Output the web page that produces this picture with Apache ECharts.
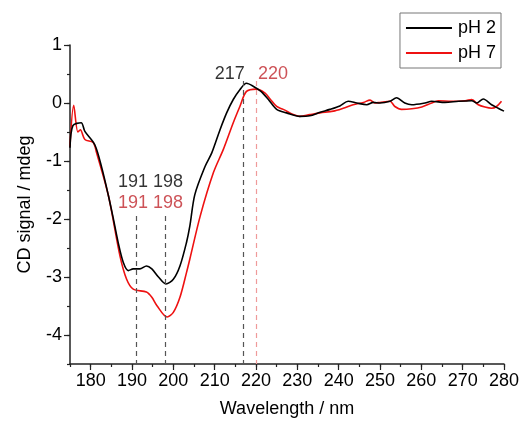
<!DOCTYPE html>
<html>
<head>
<meta charset="utf-8">
<script src="https://cdn.jsdelivr.net/npm/echarts@6/dist/echarts.min.js"></script>
<style>
  html, body { margin: 0; padding: 0; background: #fff; }
  #chart { width: 522px; height: 430px; }
</style>
</head>
<body>
<div id="chart"></div>
<script>
// pH 2 spectrum (wavelength nm, CD mdeg)
const ph2Wave = [175, 175.7, 177.7, 178.6, 181, 182.7, 184.3, 185.5, 186.7, 187.9, 189.1, 190.3, 191.9, 193.5, 194.8, 196.4, 198.2, 200, 201.6, 203.2, 204, 205.2, 207.7, 209.3, 211.3, 212.9, 214.5, 216.1, 217.7, 219.3, 221.2, 223, 225, 227.4, 230.6, 233, 235.5, 237.9, 240.3, 242.3, 244.4, 246.8, 248.4, 250, 252.4, 254, 256, 257.7, 260.9, 262.5, 265.7, 269, 272.2, 273.4, 275, 277, 278.6, 280];
const ph2Cd = [-0.77, -0.39, -0.34, -0.49, -0.72, -1.12, -1.6, -2.0, -2.42, -2.75, -2.89, -2.86, -2.86, -2.81, -2.86, -3.0, -3.12, -3.04, -2.81, -2.4, -2.12, -1.58, -1.09, -0.86, -0.46, -0.17, 0.06, 0.23, 0.34, 0.29, 0.2, 0.06, -0.11, -0.17, -0.23, -0.22, -0.16, -0.11, -0.05, 0.03, 0.0, -0.03, 0.01, 0.0, 0.03, 0.09, 0.0, -0.03, 0.0, 0.03, 0.01, 0.03, 0.04, 0.0, 0.07, -0.03, -0.09, -0.14];

// pH 7 spectrum
const ph7Wave = [175, 175.9, 176.9, 177.5, 178.6, 180.6, 181.4, 184.3, 187.1, 188.7, 190.3, 193.5, 194.8, 196, 198.5, 200, 201.6, 203.2, 204, 206.5, 209.7, 212.1, 214.5, 216.1, 217.7, 220.1, 222.2, 223.4, 225, 226.6, 229, 230.6, 233, 235.5, 238.7, 241.1, 243.5, 246, 247.6, 248.8, 250, 252.4, 253.6, 255.2, 257.7, 260.1, 262.5, 264.1, 267.3, 270.6, 272.2, 273.8, 275.4, 277, 278.2, 279.4];
const ph7Cd = [-0.75, -0.04, -0.5, -0.46, -0.63, -0.68, -0.85, -1.6, -2.64, -3.04, -3.21, -3.26, -3.35, -3.49, -3.69, -3.61, -3.35, -2.92, -2.69, -1.95, -1.2, -0.8, -0.34, -0.06, 0.2, 0.24, 0.17, 0.07, -0.06, -0.11, -0.2, -0.23, -0.2, -0.17, -0.14, -0.09, -0.03, 0.01, 0.05, 0.0, 0.01, 0.03, -0.06, -0.11, -0.1, -0.07, 0.0, 0.04, 0.03, 0.04, 0.06, -0.03, -0.07, -0.09, -0.06, 0.03];

// marked band positions
const ph2Peaks = [191, 198, 217];
const ph7Peaks = [191, 198, 220];

const FONT = '"Liberation Sans", Arial, sans-serif';
const FS = 18;
const BLACK = '#000000';
const RED = '#ee1111';
const RED_TEXT = '#c1272d';
const Y_MIN = -4.5;

const zip = (xs, ys) => xs.map((x, i) => [x, ys[i]]);

// top of each dashed guide (the low-wavelength ones start under the labels)
const guideTop = x => (x < 210 ? -1.95 : 0.38);
const guides = peaks => peaks.map(x => [{ coord: [x, guideTop(x)] }, { coord: [x, Y_MIN] }]);

const textSeries = (items, color) => ({
  type: 'scatter',
  symbolSize: 0,
  silent: true,
  data: items.map(it => ({
    value: it.pos,
    label: {
      show: true, position: 'inside', formatter: it.text, align: it.align,
      color: color, fontSize: FS, fontFamily: FONT
    }
  }))
});

const axisText = { fontSize: FS, fontFamily: FONT, color: '#000' };

const chart = echarts.init(document.getElementById('chart'));
chart.setOption({
  animation: false,
  backgroundColor: '#fff',
  grid: { left: 70, right: 18, top: 45, bottom: 66 },
  legend: {
    orient: 'vertical',
    right: 21,
    top: 13,
    data: ['pH 2', 'pH 7'],
    icon: 'rect',
    borderColor: '#777',
    borderWidth: 1,
    padding: [6, 5, 6, 6],
    itemWidth: 46,
    itemHeight: 2,
    itemGap: 7,
    textStyle: { fontSize: FS, fontFamily: FONT, color: '#000', padding: [0, 0, 0, 1] }
  },
  xAxis: [{
    type: 'value',
    position: 'bottom',
    min: 175, max: 280,
    minInterval: 10, maxInterval: 10,
    name: 'Wavelength / nm',
    nameLocation: 'middle',
    nameGap: 36,
    nameTextStyle: axisText,
    axisLine: { onZero: false, lineStyle: { color: '#222', width: 1.5 } },
    axisTick: { length: 6, lineStyle: { color: '#222', width: 1.2 } },
    axisLabel: Object.assign({ showMinLabel: false, margin: 8 }, axisText),
    splitLine: { show: false }
  }, {
    type: 'value',
    position: 'bottom',
    min: 175, max: 280, interval: 5,
    axisLine: { show: false, onZero: false },
    axisTick: { length: 3, lineStyle: { color: '#222', width: 1.2 } },
    axisLabel: { show: false },
    splitLine: { show: false }
  }],
  yAxis: [{
    type: 'value',
    position: 'left',
    min: Y_MIN, max: 1,
    minInterval: 1, maxInterval: 1,
    name: 'CD signal / mdeg',
    nameLocation: 'middle',
    nameGap: 36,
    nameTextStyle: axisText,
    axisLine: { show: true, onZero: false, lineStyle: { color: '#222', width: 1.5 } },
    axisTick: { show: true, length: 6, lineStyle: { color: '#222', width: 1.2 } },
    axisLabel: Object.assign({ showMinLabel: false, margin: 8 }, axisText),
    splitLine: { show: false }
  }, {
    type: 'value',
    position: 'left',
    min: Y_MIN, max: 1, interval: 0.5,
    axisLine: { show: false, onZero: false },
    axisTick: { show: true, length: 3, lineStyle: { color: '#222', width: 1.2 } },
    axisLabel: { show: false },
    splitLine: { show: false }
  }],
  series: [
    {
      name: 'pH 2',
      type: 'line',
      data: zip(ph2Wave, ph2Cd),
      symbol: 'none',
      smooth: 0.3,
      lineStyle: { color: BLACK, width: 1.6 },
      itemStyle: { color: BLACK },
      z: 3,
      markLine: {
        silent: true, symbol: 'none', label: { show: false },
        lineStyle: { color: '#555', type: [5, 4], width: 1.2 },
        data: guides(ph2Peaks)
      }
    },
    {
      name: 'pH 7',
      type: 'line',
      data: zip(ph7Wave, ph7Cd),
      symbol: 'none',
      smooth: 0.3,
      lineStyle: { color: RED, width: 1.6 },
      itemStyle: { color: RED },
      z: 2,
      markLine: {
        silent: true, symbol: 'none', label: { show: false },
        lineStyle: { color: '#ef9a9a', type: [5, 4], width: 1.2 },
        data: guides(ph7Peaks.filter(x => x > 210))
      }
    },
    textSeries([
      { pos: [(ph2Peaks[0] + ph2Peaks[1]) / 2, -1.37], text: ph2Peaks[0] + ' ' + ph2Peaks[1], align: 'center' },
      { pos: [ph2Peaks[2] + 0.3, 0.5], text: String(ph2Peaks[2]), align: 'right' }
    ], BLACK),
    textSeries([
      { pos: [(ph7Peaks[0] + ph7Peaks[1]) / 2, -1.72], text: ph7Peaks[0] + ' ' + ph7Peaks[1], align: 'center' },
      { pos: [ph7Peaks[2] + 0.5, 0.5], text: String(ph7Peaks[2]), align: 'left' }
    ], RED_TEXT)
  ]
});
</script>
</body>
</html>
